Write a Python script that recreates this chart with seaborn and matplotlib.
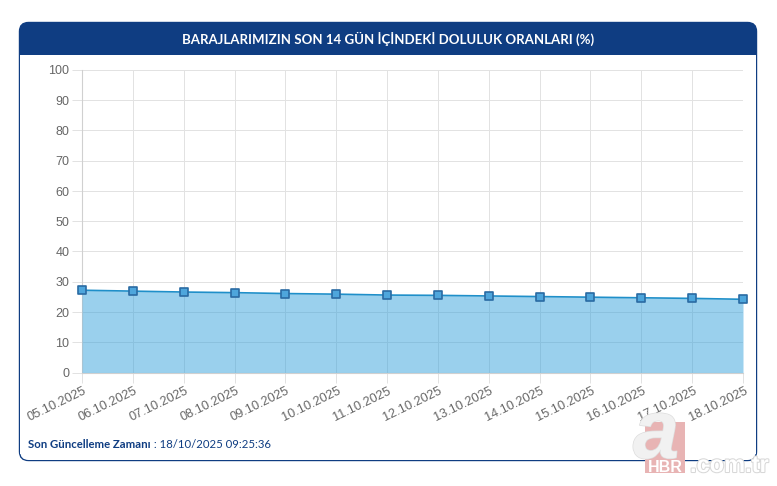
import matplotlib
matplotlib.use("Agg")
import matplotlib.pyplot as plt
import matplotlib.patheffects as pe
from matplotlib.markers import MarkerStyle
from matplotlib.patches import FancyBboxPatch, Rectangle
from matplotlib.transforms import ScaledTranslation
import pandas as pd
import seaborn as sns

dates = ["05.10.2025", "06.10.2025", "07.10.2025", "08.10.2025", "09.10.2025",
         "10.10.2025", "11.10.2025", "12.10.2025", "13.10.2025", "14.10.2025",
         "15.10.2025", "16.10.2025", "17.10.2025", "18.10.2025"]
fill_rate = [27.2, 26.9, 26.6, 26.4, 26.1, 25.9, 25.6, 25.5, 25.3, 25.1, 24.9, 24.7, 24.5, 24.2]
y_ticks = list(range(0, 101, 10))
title = "BARAJLARIMIZIN SON 14 GÜN İÇİNDEKİ DOLULUK ORANLARI (%)"
foot_label = "Son Güncelleme Zamanı"
foot_value = " : 18/10/2025 09:25:36"

W, H = 777, 486
NAVY = "#0f3d82"
sns.set_theme(style="white")
plt.rcParams["font.family"] = ["Liberation Sans", "DejaVu Sans"]

fig = plt.figure(figsize=(W / 100, H / 100), dpi=100, facecolor="white")

# page furniture in pixel coordinates
bg = fig.add_axes([0, 0, 1, 1], zorder=0)
bg.set_xlim(0, W); bg.set_ylim(H, 0); bg.axis("off")
bg.add_patch(FancyBboxPatch((19.5, 22.5), 737, 438, boxstyle="round,pad=0,rounding_size=9",
                            fc=NAVY, ec=NAVY, lw=1.0, zorder=1))
bg.add_patch(Rectangle((20.2, 55.5), 735.6, 398, fc="white", ec="none", zorder=2))
bg.add_patch(FancyBboxPatch((20.2, 440), 735.6, 20, boxstyle="round,pad=0,rounding_size=8.5",
                            fc="white", ec="none", zorder=2))
bg.text(388, 39, title, color="white", fontsize=9.5, fontweight="bold",
        ha="center", va="center", family=["Lato", "DejaVu Sans"], zorder=3)
lab = bg.text(28, 444, foot_label, color=NAVY, fontsize=8.2, fontweight="bold",
              ha="left", va="center", family=["Lato", "DejaVu Sans"], zorder=3)
bg.annotate(foot_value, xy=(1, 0.5), xycoords=lab, color=NAVY, fontsize=8.2,
            ha="left", va="center", family=["Lato", "DejaVu Sans"], zorder=3)

# chart
x0, x1, ytop, ybot = 82, 743, 70, 372.5
ax = fig.add_axes([x0 / W, 1 - ybot / H, (x1 - x0) / W, (ybot - ytop) / H], zorder=1)
ax.patch.set_alpha(0)
df = pd.DataFrame({"date": dates, "rate": fill_rate})
positions = list(range(len(dates)))
ax.fill_between(positions, df["rate"], 0, color="#36a2dc", alpha=0.5, lw=0, zorder=3)
sns.lineplot(x=positions, y=df["rate"], ax=ax, color="#1f8fc9", lw=1.2, zorder=4,
             marker=MarkerStyle("s", joinstyle="round"), markersize=5.4,
             markerfacecolor="#4ea6dc", markeredgecolor="#2a6ba3",
             markeredgewidth=1.2, clip_on=False)
ax.set_xlim(0, len(dates) - 1)
ax.set_ylim(0, 100)
ax.set_xlabel(""); ax.set_ylabel("")
ax.set_yticks(y_ticks)
ax.set_xticks(positions)
ax.set_xticklabels(dates, rotation=26, ha="right", rotation_mode="anchor")
ax.grid(True, color="#e2e2e2", lw=0.7, zorder=1)
ax.set_axisbelow(True)
ax.tick_params(axis="y", length=7, width=0.7, color="#e2e2e2", labelcolor="#666666",
               labelsize=9, pad=2, left=True)
ax.tick_params(axis="x", length=7, width=0.7, color="#e2e2e2", labelcolor="#666666",
               labelsize=9.2, pad=2, bottom=True)
for s in ["top", "right"]:
    ax.spines[s].set_visible(False)
for s in ["left", "bottom"]:
    ax.spines[s].set_color("#d0d0d0")
    ax.spines[s].set_linewidth(0.8)
for lbl in ax.get_xticklabels():
    lbl.set_transform(lbl.get_transform() + ScaledTranslation(1 / 100, 0, fig.dpi_scale_trans))

# watermark
wm = fig.add_axes([0, 0, 1, 1], zorder=2)
wm.set_xlim(0, W); wm.set_ylim(H, 0); wm.axis("off")
wm.add_patch(Rectangle((645, 422), 40, 51, fc="#e8b4b4", ec="none"))
wm.text(665, 472, "HBR", color="white", fontsize=11.5, fontweight="bold", ha="center", va="baseline",
        family="Liberation Sans")
wm.text(656, 458, "a", color="#f1f1f1", fontsize=60, fontweight="bold", style="italic",
        ha="center", va="baseline", family="Liberation Sans",
        path_effects=[pe.withStroke(linewidth=1, foreground="#dddddd")])
wm.text(690, 472, ".com.tr", color="white", fontsize=17, fontweight="bold", ha="left", va="baseline",
        family="Liberation Sans", path_effects=[pe.withStroke(linewidth=1.5, foreground="#d8d8d8")])

fig.savefig("out.png", dpi=100)
